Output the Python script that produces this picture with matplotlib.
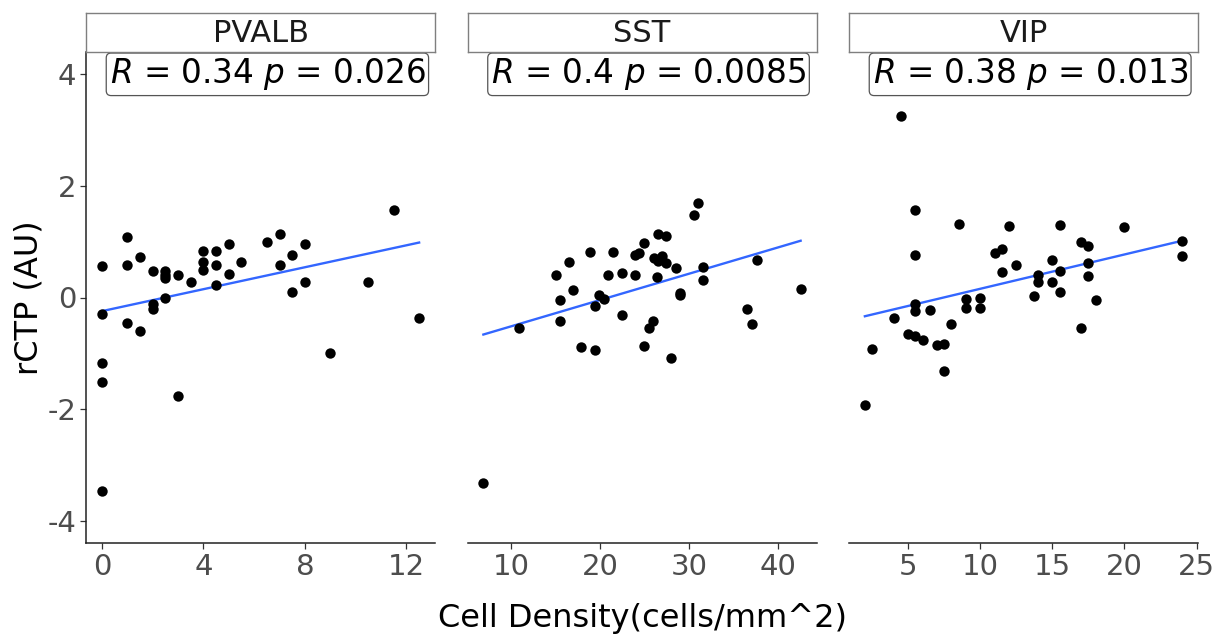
import numpy as np
import matplotlib
matplotlib.use("Agg")
import matplotlib.pyplot as plt

plt.rcParams['font.family'] = ['DejaVu Sans']
plt.rcParams['mathtext.fontset'] = 'dejavusans'
plt.rcParams['axes.unicode_minus'] = False

# ---------------- data ----------------
panels = ["PVALB", "SST", "VIP"]
stat_labels = [r"$R$ = 0.34 $p$ = 0.026", r"$R$ = 0.4 $p$ = 0.0085", r"$R$ = 0.38 $p$ = 0.013"]

pvalb_x = [0, 1, 1, 1.5, 2, 2.5, 2.5, 2.5, 3, 3.5, 4, 4, 4, 4.5, 4.5, 4.5, 5, 5, 5.5, 6.5,
           7, 7, 7.5, 7.5, 8, 8, 9, 10.5, 11.5, 12.5, 0, 1, 1.5, 2, 2, 2.5, 0, 0, 3, 0]
pvalb_y = [0.57, 1.09, 0.59, 0.73, 0.48, 0.48, 0.41, 0.35, 0.41, 0.27, 0.84, 0.64, 0.49, 0.83,
           0.59, 0.23, 0.96, 0.42, 0.63, 1.00, 1.13, 0.59, 0.76, 0.10, 0.95, 0.27, -1.00, 0.28,
           1.57, -0.36, -0.30, -0.45, -0.60, -0.12, -0.21, 0.00, -1.18, -1.51, -1.77, -3.47]

sst_x = [10.9, 15.0, 16.5, 15.5, 17.0, 15.5, 18.9, 17.9, 19.4, 19.9, 20.4, 19.4, 21.4, 20.9,
         22.4, 22.4, 23.9, 23.9, 24.4, 24.9, 26.0, 26.5, 27.4, 26.5, 27.0, 27.4, 26.4, 28.5,
         29.0, 29.0, 25.9, 25.5, 24.9, 27.9, 30.5, 31.0, 31.5, 31.5, 37.6, 36.5, 37.0, 42.5, 6.9]
sst_y = [-0.55, 0.41, 0.63, -0.05, 0.13, -0.43, 0.81, -0.88, -0.94, 0.04, -0.02, -0.15, 0.81,
         0.40, 0.44, -0.31, 0.41, 0.77, 0.80, 0.98, 0.71, 1.14, 1.11, 0.65, 0.74, 0.62, 0.36,
         0.53, 0.08, 0.04, -0.43, -0.55, -0.87, -1.08, 1.47, 1.70, 0.55, 0.31, 0.67, -0.20,
         -0.48, 0.15, -3.33]

vip_x = [4.5, 5.5, 5.5, 8.5, 12, 15.5, 20, 11, 11.5, 12.5, 11.5, 17, 17.5, 17.5, 17.5, 15,
         15.5, 14, 14, 15, 24, 24, 13.7, 15.5, 18, 17, 9, 10, 9, 10, 5.5, 5.5, 6.5, 4, 8, 5,
         5.5, 6, 7, 7.5, 7.5, 2.5, 2]
vip_y = [3.26, 1.56, 0.77, 1.32, 1.29, 1.30, 1.27, 0.79, 0.87, 0.59, 0.46, 0.99, 0.92, 0.61,
         0.38, 0.68, 0.47, 0.41, 0.27, 0.28, 1.02, 0.74, 0.03, 0.09, -0.04, -0.54, -0.02, -0.01,
         -0.18, -0.19, -0.11, -0.25, -0.23, -0.36, -0.48, -0.65, -0.69, -0.77, -0.85, -0.83,
         -1.31, -0.92, -1.93]

xs = [pvalb_x, sst_x, vip_x]
ys = [pvalb_y, sst_y, vip_y]
xticks = [[0, 4, 8, 12], [10, 20, 30, 40], [5, 10, 15, 20, 25]]
yticks = [-4, -2, 0, 2, 4]
label_y = 4.0

# ---------------- layout ----------------
W, H = 1219, 636
fig = plt.figure(figsize=(W / 100, H / 100), dpi=100)
fig.patch.set_facecolor('white')

lefts = [86, 467.5, 849]
pw = 349
top_px, bot_px = 52, 543
strip_top = 12.5

tick_col = '#4D4D4D'
for i, name in enumerate(panels):
    ax = fig.add_axes([lefts[i] / W, 1 - bot_px / H, pw / W, (bot_px - top_px) / H])
    x = np.array(xs[i], float)
    y = np.array(ys[i], float)
    ax.scatter(x, y, s=56, color='black', linewidths=0, zorder=3)
    b1, b0 = np.polyfit(x, y, 1)
    xl = np.array([x.min(), x.max()])
    ax.plot(xl, b0 + b1 * xl, color='#3366FF', lw=1.7, zorder=2)
    rng = x.max() - x.min()
    ax.set_xlim(x.min() - 0.05 * rng, x.max() + 0.05 * rng)
    ax.set_ylim(-4.4, 4.4)
    ax.set_xticks(xticks[i])
    ax.set_yticks(yticks)
    ax.tick_params(axis='both', labelsize=21, colors='#333333', labelcolor=tick_col,
                   length=4, width=0.9, pad=3)
    for s in ['top', 'right']:
        ax.spines[s].set_visible(False)
    ax.spines['bottom'].set_color('#222222')
    ax.spines['bottom'].set_linewidth(1.1)
    if i == 0:
        ax.spines['left'].set_color('#222222')
        ax.spines['left'].set_linewidth(1.1)
    else:
        ax.spines['left'].set_visible(False)
        ax.tick_params(axis='y', left=False, labelleft=False)

    # stat label
    ax.annotate(stat_labels[i], xy=(x.min(), label_y), xycoords='data',
                xytext=(5.5, 0), textcoords='offset points',
                ha='left', va='center', fontsize=23.5, color='black', zorder=5,
                bbox=dict(boxstyle='round,pad=0.1,rounding_size=0.15', fc='white',
                          ec='#555555', lw=0.9))

    # strip
    sax = fig.add_axes([lefts[i] / W, 1 - top_px / H, pw / W, (top_px - strip_top) / H])
    sax.set_xticks([])
    sax.set_yticks([])
    sax.set_facecolor('white')
    for s in sax.spines.values():
        s.set_color('#7F7F7F')
        s.set_linewidth(1.0)
    sax.text(0.5, 0.47, name, ha='center', va='center', fontsize=22, color='#1A1A1A',
             transform=sax.transAxes)

fig.text(642 / W, 1 - 619 / H, 'Cell Density(cells/mm^2)', ha='center', va='center',
         fontsize=23, color='black')
fig.text(29 / W, 1 - 298 / H, 'rCTP (AU)', ha='center', va='center', rotation=90,
         fontsize=23, color='black')

fig.savefig('out.png', dpi=100, facecolor='white')
